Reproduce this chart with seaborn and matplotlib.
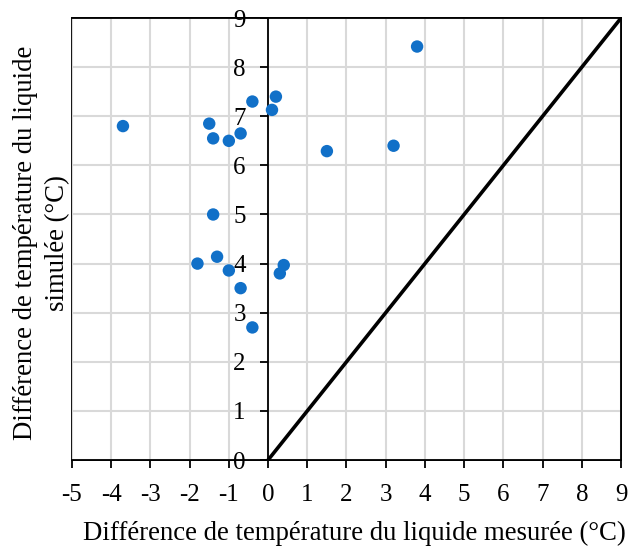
import matplotlib
matplotlib.use("Agg")
import matplotlib.pyplot as plt
import seaborn as sns
import pandas as pd

# measured vs simulated liquid temperature difference
mesure = [-3.7, -1.5, -1.4, -1.0, -0.7, -0.4, 0.1, 0.2, 1.5, -1.4,
          3.8, 3.2, -1.8, -1.3, -1.0, -0.7, -0.4, 0.3, 0.4]
simule = [6.8, 6.85, 6.55, 6.5, 6.65, 7.3, 7.13, 7.4, 6.29, 5.0,
          8.42, 6.4, 4.0, 4.14, 3.86, 3.5, 2.7, 3.8, 3.97]
ligne_x = [0, 9]
ligne_y = [0, 9]
xticks = list(range(-5, 10))
yticks = list(range(0, 10))

data = pd.DataFrame({'mesure': mesure, 'simule': simule})

sns.set_style('white')
plt.rcParams['font.family'] = ['Liberation Serif', 'DejaVu Serif']
plt.rcParams['text.color'] = 'black'
plt.rcParams['xtick.color'] = 'black'
plt.rcParams['ytick.color'] = 'black'

fig, ax = plt.subplots(figsize=(6.28, 5.47), dpi=100)
fig.subplots_adjust(left=0.1146, right=0.9889, top=0.967, bottom=0.159)

ax.grid(True, color='#d9d9d9', linewidth=1.5)
ax.set_axisbelow(True)

sns.lineplot(x=ligne_x, y=ligne_y, color='black', linewidth=2.6, ax=ax, zorder=3)
sns.scatterplot(data=data, x='mesure', y='simule', color='#1170c8', s=80,
                edgecolor='none', ax=ax, zorder=4)

ax.set_xlim(-5, 9)
ax.set_ylim(0, 9)
ax.set_xticks(xticks)
ax.set_yticks(yticks)
ax.set_xticklabels([str(v) for v in xticks])
ax.set_yticklabels([str(v) for v in yticks])

# y axis crosses at x=0, frame around the plot
ax.spines['left'].set_position(('data', 0))
for s in ['left', 'bottom', 'top', 'right']:
    ax.spines[s].set_color('black')
    ax.spines[s].set_linewidth(1.3)
ax.patch.set_edgecolor('black')
ax.patch.set_linewidth(1.3)
ax.tick_params(axis='both', direction='out', length=6, width=1.3, color='black',
               labelcolor='black', labelsize=18, left=True, bottom=True)
ax.tick_params(axis='x', pad=11.5)
ax.tick_params(axis='y', pad=10)

ax.set_xlabel('')
ax.set_ylabel('')
fig.text(0.5637, 0.0128, 'Différence de température du liquide mesurée (°C)',
         ha='center', va='baseline', fontsize=19.3, color='black')
fig.text(0.066, 0.5558, 'Différence de température du liquide\nsimulée (°C)',
         rotation=90, ha='center', va='center', multialignment='center',
         fontsize=19.3, linespacing=1.4, color='black')

fig.savefig('out.png', dpi=100)
